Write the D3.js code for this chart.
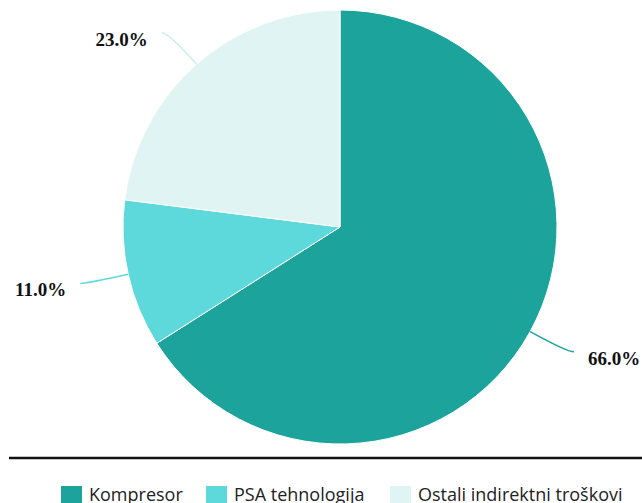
<!DOCTYPE html>
<html><head><meta charset="utf-8">
<script src="https://cdn.jsdelivr.net/npm/d3@7"></script>
<style>body{margin:0;background:#fff}svg{display:block}</style>
</head><body>
<svg id="c" width="642" height="503"></svg>
<script>
const categories = ["Kompresor", "PSA tehnologija", "Ostali indirektni troškovi"];
const values = [66.0, 11.0, 23.0];
const colors = ["#1ba39c", "#5dd9dc", "#e0f4f4"];
const lineColors = ["#1ba39c", "#5dd9dc", "#cdeeee"];

const svg = d3.select("#c");
const cx = 340, cy = 227, R = 217;
const data = categories.map((c, i) => ({name: c, value: values[i], i}));
const pie = d3.pie().value(d => d.value).sort(null);
const arcs = pie(data);
const arc = d3.arc().innerRadius(0).outerRadius(R);
const g = svg.append("g").attr("transform", `translate(${cx},${cy})`);
g.selectAll("path.slice").data(arcs).join("path")
  .attr("class", "slice")
  .attr("d", arc)
  .attr("fill", d => colors[d.data.i])
  .attr("stroke", "#fff").attr("stroke-width", 1);

const L1 = 42, L2 = 7;
arcs.forEach(a => {
  const m = (a.startAngle + a.endAngle) / 2;
  const sx = Math.sin(m), sy = -Math.cos(m);
  const p0 = [sx * R, sy * R];
  const p1 = [sx * (R + L1), sy * (R + L1)];
  const dir = sx >= 0 ? 1 : -1;
  const p2 = [p1[0] + dir * L2, p1[1]];
  g.append("path")
    .attr("d", `M${p0[0]},${p0[1]}Q${p1[0]},${p1[1]} ${p2[0]},${p2[1]}`)
    .attr("fill", "none").attr("stroke", lineColors[a.data.i]).attr("stroke-width", 1.5);
  g.append("text")
    .attr("x", p2[0] + dir * 14).attr("y", p2[1] + 13)
    .attr("text-anchor", dir > 0 ? "start" : "end")
    .attr("font-family", "Liberation Serif, Times New Roman, serif")
    .attr("font-weight", "bold").attr("font-size", 19).attr("fill", "#111")
    .text(a.data.value.toFixed(1) + "%");
});

svg.append("line").attr("x1", 9).attr("x2", 642).attr("y1", 458).attr("y2", 458)
  .attr("stroke", "#111").attr("stroke-width", 2.5);

const legX = [61, 206, 390];
const lg = svg.append("g");
data.forEach((d, i) => {
  lg.append("rect").attr("x", legX[i]).attr("y", 486).attr("width", 21).attr("height", 18)
    .attr("fill", colors[i]);
  lg.append("text").attr("x", legX[i] + 28).attr("y", 501)
    .attr("font-family", "Open Sans, sans-serif").attr("font-size", 18).attr("fill", "#222")
    .text(d.name);
});
</script>
</body></html>
